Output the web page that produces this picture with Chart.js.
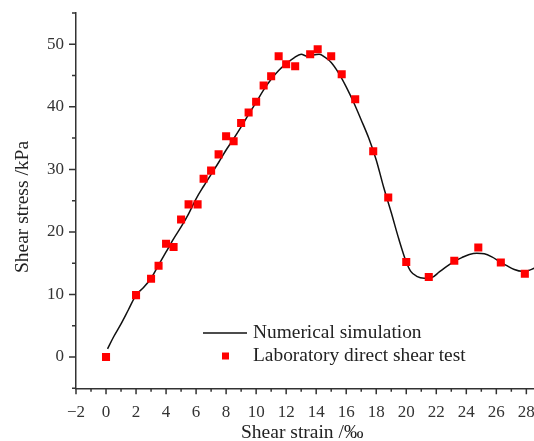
<!DOCTYPE html>
<html>
<head>
<meta charset="utf-8">
<script src="https://cdn.jsdelivr.net/npm/chart.js@4/dist/chart.umd.min.js"></script>
<style>
  html, body { margin: 0; padding: 0; background: #fff; overflow: hidden; }
  #wrap { width: 534px; height: 441px; overflow: hidden; }
</style>
</head>
<body>
<div id="wrap"><canvas id="c" width="540" height="441"></canvas></div>
<script>
// ---- Data ----
const simStrain = [0.1,0.5,1,1.5,2,2.5,3,3.5,4,4.5,5,5.5,6,6.5,7,7.5,8,8.5,9,9.5,10,10.5,11,11.5,12,12.5,13,13.4,13.8,14.2,14.6,15,15.5,16,16.5,17,17.5,18,18.5,19,19.5,20,20.3,20.7,21.2,21.7,22.2,22.7,23.2,23.7,24.2,24.7,25.2,25.7,26.2,26.7,27.2,27.7,28.1,28.53];
const simStress = [1.3,3.2,5.3,7.6,9.9,11.1,12.6,14.7,16.8,18.9,20.8,22.9,25.3,27.3,29.2,31.1,33.1,34.9,36.8,38.8,40.7,42.7,44.4,45.8,46.9,47.8,48.4,48.1,48.3,48.4,47.9,47.1,45.4,43.2,40.7,37.9,35.0,31.5,27.1,23.1,18.9,15.2,13.7,12.9,12.6,12.7,13.6,14.5,15.3,15.9,16.4,16.6,16.5,16.0,15.3,14.6,14.0,13.7,13.8,14.2];
const labStrain = [0,2,3,3.5,4,4.5,5,5.5,6.1,6.5,7,7.5,8,8.5,9,9.5,10,10.5,11,11.5,12,12.6,13.6,14.1,15,15.7,16.6,17.8,18.8,20,21.5,23.2,24.8,26.3,27.9];
const labStress = [0,9.9,12.5,14.6,18.1,17.6,22,24.4,24.4,28.5,29.8,32.4,35.3,34.5,37.4,39.1,40.8,43.4,44.9,48.1,46.8,46.5,48.4,49.2,48.1,45.2,41.2,32.9,25.5,15.2,12.8,15.4,17.5,15.1,13.3];
const xTicks = [-2,0,2,4,6,8,10,12,14,16,18,20,22,24,26,28];
const xMinorTicks = [-1,1,3,5,7,9,11,13,15,17,19,21,23,25,27];
const yTicks = [0,10,20,30,40,50];
const yMinorTicks = [-5,5,15,25,35,45,55];
const seriesNames = ["Numerical simulation", "Laboratory direct shear test"];
const xTitle = "Shear strain /\u2030";
const yTitle = "Shear stress /kPa";

const FONT = "'Liberation Serif', 'Times New Roman', serif";
const AXIS = '#333333';

const simPoints = simStrain.map((x, i) => ({x, y: simStress[i]}));
const labPoints = labStrain.map((x, i) => ({x, y: labStress[i]}));

function zeroPad(s) { s.paddingLeft = 0; s.paddingRight = 0; s.paddingTop = 0; s.paddingBottom = 0; }

const tickPlugin = {
  id: 'customTicksLegend',
  afterDraw(chart) {
    const ctx = chart.ctx;
    const xs = chart.scales.x, ys = chart.scales.y;
    const ca = chart.chartArea;
    ctx.save();
    ctx.strokeStyle = AXIS;
    ctx.lineWidth = 1.5;
    ctx.beginPath();
    xTicks.forEach(v => { const p = xs.getPixelForValue(v); ctx.moveTo(p, ca.bottom); ctx.lineTo(p, ca.bottom + 6); });
    xMinorTicks.forEach(v => { const p = xs.getPixelForValue(v); ctx.moveTo(p, ca.bottom); ctx.lineTo(p, ca.bottom + 3.5); });
    yTicks.forEach(v => { const p = ys.getPixelForValue(v); ctx.moveTo(ca.left, p); ctx.lineTo(ca.left - 7, p); });
    yMinorTicks.forEach(v => { const p = ys.getPixelForValue(v); ctx.moveTo(ca.left, p); ctx.lineTo(ca.left - 4, p); });
    ctx.stroke();

    // y axis title
    ctx.fillStyle = '#222';
    ctx.font = "19.5px " + FONT;
    ctx.textAlign = 'center';
    ctx.textBaseline = 'middle';
    ctx.save();
    ctx.translate(23, ca.top + 194);
    ctx.rotate(-Math.PI / 2);
    ctx.fillText(yTitle, 0, 0);
    ctx.restore();

    // x axis title
    ctx.fillText(xTitle, xs.getPixelForValue(13.07), ca.bottom + 45);

    // legend
    const lx = ca.left + 127, ly1 = ca.top + 320, ly2 = ca.top + 343;
    ctx.strokeStyle = '#111';
    ctx.lineWidth = 1.5;
    ctx.beginPath();
    ctx.moveTo(lx, ly1); ctx.lineTo(lx + 44, ly1);
    ctx.stroke();
    ctx.fillStyle = '#ff0000';
    ctx.fillRect(lx + 19, ly2 - 3.5, 7, 7);
    ctx.fillStyle = '#222';
    ctx.font = "19.4px " + FONT;
    ctx.textBaseline = 'middle';
    ctx.textAlign = 'left';
    ctx.fillText(seriesNames[0], lx + 50, ly1);
    ctx.fillText(seriesNames[1], lx + 50, ly2);
    ctx.restore();
  }
};

new Chart(document.getElementById('c'), {
  type: 'scatter',
  data: {
    datasets: [
      {
        label: seriesNames[1],
        data: labPoints,
        pointStyle: 'rect',
        pointRadius: 5.7,
        pointHoverRadius: 5.7,
        backgroundColor: '#ff0000',
        borderColor: '#ff0000',
        borderWidth: 0,
        order: 0
      },
      {
        label: seriesNames[0],
        data: simPoints,
        showLine: true,
        pointRadius: 0,
        borderColor: '#111111',
        borderWidth: 1.5,
        cubicInterpolationMode: 'monotone',
        fill: false,
        order: 1
      }
    ]
  },
  options: {
    responsive: false,
    animation: false,
    events: [],
    layout: { padding: { top: 13, right: 0, left: 0, bottom: 0 } },
    plugins: { legend: { display: false }, tooltip: { enabled: false } },
    scales: {
      x: {
        type: 'linear',
        min: -2, max: 28.53,
        afterBuildTicks: s => { s.ticks = xTicks.map(v => ({value: v})); },
        afterFit: s => { s.height = 52.7; zeroPad(s); },
        grid: { display: false, drawTicks: false },
        border: { display: true, color: AXIS, width: 1.5 },
        ticks: { color: '#333', font: { family: FONT, size: 17 }, padding: 14, maxRotation: 0, autoSkip: false,
                 callback: v => (v < 0 ? '\u2212' + Math.abs(v) : String(v)) },
        title: { display: false }
      },
      y: {
        type: 'linear',
        min: -5, max: 55,
        afterBuildTicks: s => { s.ticks = yTicks.map(v => ({value: v})); },
        afterFit: s => { s.width = 76; zeroPad(s); },
        grid: { display: false, drawTicks: false },
        border: { display: true, color: AXIS, width: 1.5 },
        ticks: { color: '#333', font: { family: FONT, size: 17 }, padding: 12, autoSkip: false },
        title: { display: false }
      }
    }
  },
  plugins: [tickPlugin]
});
</script>
</body>
</html>
